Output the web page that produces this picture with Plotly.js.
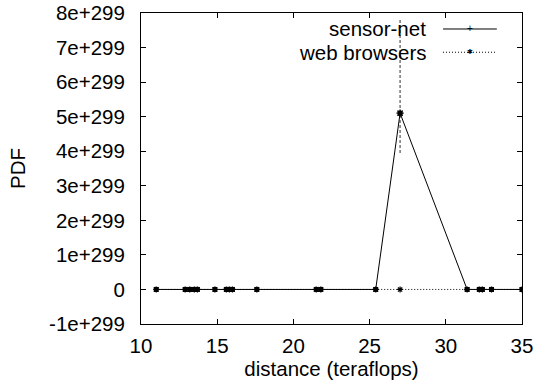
<!DOCTYPE html>
<html>
<head>
<meta charset="utf-8">
<script src="https://cdn.plot.ly/plotly-3.0.1.min.js"></script>
<style>html,body{margin:0;padding:0;background:#fff;}#chart{width:536px;height:389px;}</style>
</head>
<body>
<div id="chart"></div>
<script>
// distance (teraflops) sample points
var sensorX = [11.0, 12.9, 13.2, 13.5, 13.7, 14.85, 15.6, 15.8, 16.0, 17.6, 21.5, 21.8, 25.4, 27.0, 31.4, 32.2, 32.4, 33.0, 35.0];
var sensorY = [0, 0, 0, 0, 0, 0, 0, 0, 0, 0, 0, 0, 0, 5.1e299, 0, 0, 0, 0, 0];
var webX = [11.0, 12.9, 13.2, 13.5, 13.7, 14.85, 15.6, 15.8, 16.0, 17.6, 21.5, 21.8, 25.4, 27.0, 31.4, 32.2, 32.4, 33.0, 35.0];
var webY = [0, 0, 0, 0, 0, 0, 0, 0, 0, 0, 0, 0, 0, 0, 0, 0, 0, 0, 0];
// web browsers error bar at the peak
var errX = [27.0];
var errMid = [5.1e299];
var errLow = [3.95e299];
var errHigh = [7.85e299];
var yTickVals = [-1e299, 0, 1e299, 2e299, 3e299, 4e299, 5e299, 6e299, 7e299, 8e299];
var yTickText = ['-1e+299', '0', '1e+299', '2e+299', '3e+299', '4e+299', '5e+299', '6e+299', '7e+299', '8e+299'];
var xTickVals = [10, 15, 20, 25, 30, 35];

var FONT = 'Liberation Sans, Arial, Helvetica, sans-serif';
var FS = 20.5;
var traces = [
  {x: [errX[0], errX[0]], y: [errLow[0], errHigh[0]], mode: 'lines', showlegend: false,
   line: {color: '#555', width: 1.2, dash: '3px,2px'}},
  {x: webX, y: webY, mode: 'lines+markers', name: 'web browsers',
   line: {color: '#000', width: 1, dash: '1px,2px'},
   marker: {symbol: 'asterisk-open', size: 5, color: '#000', line: {color: '#000', width: 1.2}}},
  {x: errX, y: errMid, mode: 'markers', showlegend: false,
   marker: {symbol: 'asterisk-open', size: 6, color: '#000', line: {color: '#000', width: 1.2}}},
  {x: sensorX, y: sensorY, mode: 'lines+markers', name: 'sensor-net',
   line: {color: '#000', width: 1},
   marker: {symbol: 'square', size: 5, color: '#000', line: {color: '#000', width: 0}}}
];

var layout = {
  width: 536, height: 389,
  margin: {l: 141, r: 14, t: 13, b: 64.5},
  paper_bgcolor: '#fff', plot_bgcolor: '#fff',
  showlegend: false,
  font: {family: FONT, size: FS, color: '#000'},
  xaxis: {range: [10, 35], tickmode: 'array', tickvals: xTickVals,
    ticks: 'inside', ticklen: 5, tickcolor: '#000', mirror: 'ticks',
    showline: true, linecolor: '#000', linewidth: 1, showgrid: false, zeroline: false,
    ticklabelstandoff: 3,
    title: {text: 'distance (teraflops)', font: {family: FONT, size: FS}, standoff: 1}},
  yaxis: {range: [-1e299, 8e299], tickmode: 'array', tickvals: yTickVals, ticktext: yTickText,
    ticks: 'inside', ticklen: 5, tickcolor: '#000', mirror: 'ticks',
    showline: true, linecolor: '#000', linewidth: 1, showgrid: false, zeroline: false,
    ticklabelstandoff: 11,
    title: {text: 'PDF', font: {family: FONT, size: FS}, standoff: 17}},
  shapes: [
    {type: 'line', xref: 'paper', yref: 'paper', x0: 0.7927, x1: 0.934, y0: 0.9486, y1: 0.9486, line: {color: '#000', width: 1}},
    {type: 'line', xref: 'paper', yref: 'paper', x0: 0.7927, x1: 0.934, y0: 0.8738, y1: 0.8738, line: {color: '#000', width: 1, dash: '1px,2px'}}
  ],
  annotations: [
    {xref: 'paper', yref: 'paper', x: 0.7533, y: 0.9486, xanchor: 'right', yanchor: 'middle', showarrow: false, text: 'sensor-net', font: {family: FONT, size: FS}},
    {xref: 'paper', yref: 'paper', x: 0.7533, y: 0.8738, xanchor: 'right', yanchor: 'middle', showarrow: false, text: 'web browsers', font: {family: FONT, size: FS}},
    {xref: 'paper', yref: 'paper', x: 0.8635, y: 0.9486, xanchor: 'center', yanchor: 'middle', showarrow: false, text: '+', font: {family: FONT, size: 10}},
    {xref: 'paper', yref: 'paper', x: 0.8635, y: 0.8738, xanchor: 'center', yanchor: 'middle', showarrow: false, text: '✱', font: {family: 'DejaVu Sans', size: 7}}
  ]
};
Plotly.newPlot('chart', traces, layout, {staticPlot: true, displayModeBar: false});
</script>
</body>
</html>
